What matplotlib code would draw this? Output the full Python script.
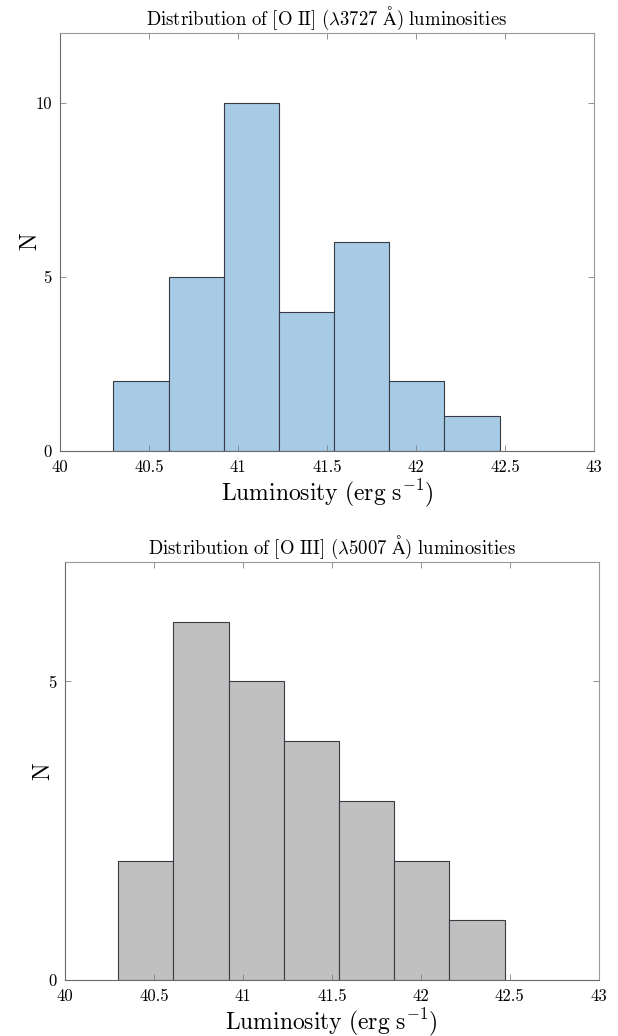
import numpy as np
import matplotlib
matplotlib.use("Agg")
import matplotlib.pyplot as plt

plt.rcParams['font.family'] = 'serif'
plt.rcParams['font.serif'] = ['cmr10', 'DejaVu Serif']
plt.rcParams['mathtext.fontset'] = 'cm'
plt.rcParams['axes.unicode_minus'] = False

# bin edges (log luminosity) and counts
edges = [40.30, 40.61, 40.92, 41.23, 41.54, 41.85, 42.16, 42.47]
counts_oii = [2, 5, 10, 4, 6, 2, 1]
counts_oiii = [2, 6, 5, 4, 3, 2, 1]

xticks = [40, 40.5, 41, 41.5, 42, 42.5, 43]
xticklabels = ['40', '40.5', '41', '41.5', '42', '42.5', '43']

titulo_oii = r'$\mathrm{Distribution\ of\ [O\ II]\ (\lambda 3727\ \AA)\ luminosities}$'
titulo_oiii = r'$\mathrm{Distribution\ of\ [O\ III]\ (\lambda 5007\ \AA)\ luminosities}$'
rotulo_x = r'$\mathrm{Luminosity\ (erg\ s^{-1})}$'


def desenhar_hist(ax, contagens, cor, titulo, ylim, yticks):
    larguras = np.diff(edges)
    ax.bar(edges[:-1], contagens, width=larguras, align='edge',
           color=cor, edgecolor='#363b44', linewidth=0.8)
    ax.set_xlim(40, 43)
    ax.set_ylim(0, ylim)
    ax.set_xticks(xticks)
    ax.set_xticklabels(xticklabels)
    ax.set_yticks(yticks)
    ax.set_yticklabels([str(t) for t in yticks])
    ax.tick_params(direction='in', top=True, right=True, length=4,
                   width=0.6, color='#808080', labelsize=12, pad=6)
    for lado in ['left', 'bottom']:
        ax.spines[lado].set_color('#6a6a6a')
    for lado in ['top', 'right']:
        ax.spines[lado].set_color('#9a9a9a')
    for s in ax.spines.values():
        s.set_linewidth(0.8)
    ax.set_title(titulo, fontsize=13.5, pad=6)
    ax.set_xlabel(rotulo_x, fontsize=17, labelpad=2)
    ax.set_ylabel(r'$\mathrm{N}$', fontsize=17, labelpad=-5)


fig = plt.figure(figsize=(6.18, 10.36), dpi=100)
ax1 = fig.add_axes([0.0971, 0.5647, 0.864, 0.4035])
ax2 = fig.add_axes([0.105, 0.054, 0.864, 0.4035])

desenhar_hist(ax1, counts_oii, '#a7cae5', titulo_oii, 12, [0, 5, 10])
desenhar_hist(ax2, counts_oiii, '#c0c0c0', titulo_oiii, 7, [0, 5])

fig.savefig('out.png', dpi=100)
